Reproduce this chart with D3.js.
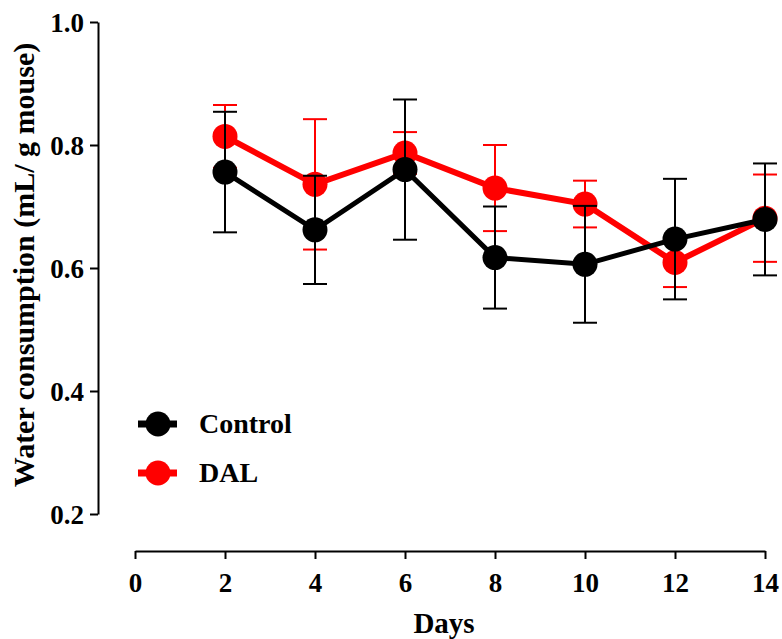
<!DOCTYPE html>
<html>
<head>
<meta charset="utf-8">
<script src="https://cdn.jsdelivr.net/npm/d3@7"></script>
<style>
  body { margin: 0; background: #fff; }
  svg { display: block; font-family: "Liberation Serif", "Times New Roman", serif; font-weight: bold; }
</style>
</head>
<body>
<svg id="chart"></svg>
<script>
// Data
const days = [2, 4, 6, 8, 10, 12, 14];
const controlMean = [0.756, 0.662, 0.760, 0.617, 0.606, 0.647, 0.679];
const controlSem  = [0.098, 0.088, 0.114, 0.083, 0.095, 0.098, 0.091];
const dalMean = [0.814, 0.736, 0.787, 0.730, 0.704, 0.609, 0.681];
const dalSem  = [0.051, 0.106, 0.034, 0.070, 0.038, 0.040, 0.071];
const yTicks = [0.2, 0.4, 0.6, 0.8, 1.0];
const xTicks = [0, 2, 4, 6, 8, 10, 12, 14];

const width = 782, height = 639;
const svg = d3.select("#chart").attr("width", width).attr("height", height);

const x = d3.scaleLinear().domain([0, 14]).range([135, 765]);
const y = d3.scaleLinear().domain([0.2, 1.0]).range([514, 22]);

// Axes
const yAxis = svg.append("g")
    .attr("transform", "translate(98,0)")
    .call(d3.axisLeft(y).tickValues(yTicks).tickFormat(d3.format(".1f")).tickSize(8).tickSizeOuter(0).tickPadding(6));

const xAxis = svg.append("g")
    .attr("transform", "translate(0,551)")
    .call(d3.axisBottom(x).tickValues(xTicks).tickSize(8).tickSizeOuter(0).tickPadding(14));

[yAxis, xAxis].forEach(a => {
    a.selectAll("path, line").attr("stroke", "#000").attr("stroke-width", 2);
    a.selectAll("text").attr("fill", "#000").attr("font-size", "27px")
        .attr("font-family", "Liberation Serif").attr("font-weight", "bold");
});
yAxis.selectAll("text").attr("dy", "0.34em");

// Axis titles
svg.append("text")
    .attr("transform", "translate(34,265) rotate(-90)")
    .attr("text-anchor", "middle")
    .attr("font-size", "30px")
    .text("Water consumption (mL/ g mouse)");

svg.append("text")
    .attr("x", 444)
    .attr("y", 633)
    .attr("text-anchor", "middle")
    .attr("font-size", "29px")
    .text("Days");

function drawSeries(mean, sem, color, lineWidth) {
    const pts = days.map((d, i) => ({ day: d, m: mean[i], s: sem[i] }));
    const g = svg.append("g");

    g.append("path")
        .datum(pts)
        .attr("fill", "none")
        .attr("stroke", color)
        .attr("stroke-width", lineWidth)
        .attr("d", d3.line().x(p => x(p.day)).y(p => y(p.m)));

    g.selectAll("circle")
        .data(pts)
        .join("circle")
        .attr("cx", p => x(p.day))
        .attr("cy", p => y(p.m))
        .attr("r", 12.5)
        .attr("fill", color);

    // error bars (SEM)
    const eb = g.append("g").attr("stroke", color).attr("stroke-width", 2);
    pts.forEach(p => {
        eb.append("line")
            .attr("x1", x(p.day)).attr("x2", x(p.day))
            .attr("y1", y(p.m - p.s)).attr("y2", y(p.m + p.s));
        [p.m - p.s, p.m + p.s].forEach(v => {
            eb.append("line")
                .attr("x1", x(p.day) - 12).attr("x2", x(p.day) + 12)
                .attr("y1", y(v)).attr("y2", y(v));
        });
    });
}

drawSeries(dalMean, dalSem, "#ff0000", 6);
drawSeries(controlMean, controlSem, "#000000", 5);

// Legend
const legend = [
    { name: "Control", color: "#000000", y: 424 },
    { name: "DAL", color: "#ff0000", y: 473 }
];
legend.forEach(l => {
    svg.append("line")
        .attr("x1", 138).attr("x2", 177)
        .attr("y1", l.y).attr("y2", l.y)
        .attr("stroke", l.color).attr("stroke-width", 7);
    svg.append("circle")
        .attr("cx", 158).attr("cy", l.y).attr("r", 12.5)
        .attr("fill", l.color);
    svg.append("text")
        .attr("x", 199).attr("y", l.y + 9)
        .attr("font-size", "28px")
        .text(l.name);
});
</script>
</body>
</html>
